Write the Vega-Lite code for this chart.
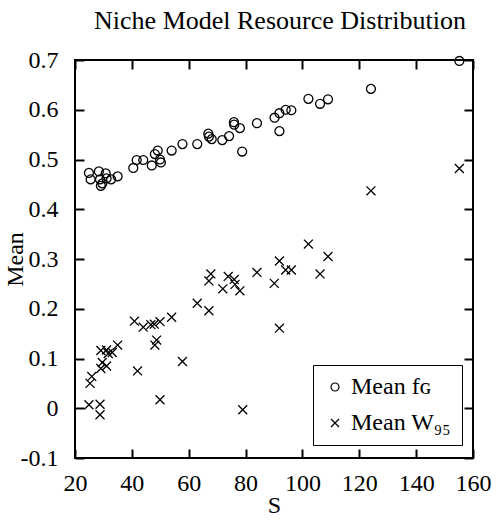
{
 "$schema": "https://vega.github.io/schema/vega-lite/v6.json",
 "width": 398, "height": 398,
 "autosize": "none",
 "padding": {"left": 75, "top": 60, "right": 25, "bottom": 72},
 "background": "white",
 "title": {"text": "Niche Model Resource Distribution", "font": "Liberation Serif", "fontSize": 26, "fontWeight": "normal", "color": "black", "anchor": "middle", "offset": 14, "dx": 6},
 "config": {
  "view": {"stroke": "black", "strokeWidth": 2},
  "axis": {"domain": false, "grid": false, "labelFlush": false, "zindex": 1,
           "labelFont": "Liberation Serif", "labelFontSize": 24, "labelColor": "black",
           "titleFont": "Liberation Serif", "titleFontSize": 24, "titleFontWeight": "normal", "titleColor": "black"}
 },
 "datasets": {"pts": [
  {"S":24.9,"mean":0.473,"series":"Mean fɢ"},
  {"S":25.5,"mean":0.460,"series":"Mean fɢ"},
  {"S":28.4,"mean":0.476,"series":"Mean fɢ"},
  {"S":28.8,"mean":0.460,"series":"Mean fɢ"},
  {"S":29.1,"mean":0.447,"series":"Mean fɢ"},
  {"S":29.6,"mean":0.452,"series":"Mean fɢ"},
  {"S":30.8,"mean":0.472,"series":"Mean fɢ"},
  {"S":31.1,"mean":0.462,"series":"Mean fɢ"},
  {"S":32.7,"mean":0.460,"series":"Mean fɢ"},
  {"S":35.0,"mean":0.466,"series":"Mean fɢ"},
  {"S":40.5,"mean":0.483,"series":"Mean fɢ"},
  {"S":41.7,"mean":0.499,"series":"Mean fɢ"},
  {"S":44.0,"mean":0.499,"series":"Mean fɢ"},
  {"S":47.0,"mean":0.488,"series":"Mean fɢ"},
  {"S":48.1,"mean":0.511,"series":"Mean fɢ"},
  {"S":49.1,"mean":0.518,"series":"Mean fɢ"},
  {"S":49.9,"mean":0.500,"series":"Mean fɢ"},
  {"S":50.2,"mean":0.494,"series":"Mean fɢ"},
  {"S":54.0,"mean":0.518,"series":"Mean fɢ"},
  {"S":57.8,"mean":0.531,"series":"Mean fɢ"},
  {"S":63.0,"mean":0.531,"series":"Mean fɢ"},
  {"S":66.9,"mean":0.552,"series":"Mean fɢ"},
  {"S":67.1,"mean":0.546,"series":"Mean fɢ"},
  {"S":68.1,"mean":0.541,"series":"Mean fɢ"},
  {"S":71.8,"mean":0.539,"series":"Mean fɢ"},
  {"S":74.2,"mean":0.547,"series":"Mean fɢ"},
  {"S":75.9,"mean":0.575,"series":"Mean fɢ"},
  {"S":76.0,"mean":0.570,"series":"Mean fɢ"},
  {"S":78.0,"mean":0.563,"series":"Mean fɢ"},
  {"S":78.8,"mean":0.516,"series":"Mean fɢ"},
  {"S":84.0,"mean":0.573,"series":"Mean fɢ"},
  {"S":90.2,"mean":0.584,"series":"Mean fɢ"},
  {"S":91.9,"mean":0.593,"series":"Mean fɢ"},
  {"S":91.9,"mean":0.557,"series":"Mean fɢ"},
  {"S":94.1,"mean":0.600,"series":"Mean fɢ"},
  {"S":96.1,"mean":0.599,"series":"Mean fɢ"},
  {"S":102.1,"mean":0.622,"series":"Mean fɢ"},
  {"S":106.2,"mean":0.612,"series":"Mean fɢ"},
  {"S":109.0,"mean":0.621,"series":"Mean fɢ"},
  {"S":124.1,"mean":0.642,"series":"Mean fɢ"},
  {"S":155.2,"mean":0.698,"series":"Mean fɢ"},
  {"S":24.9,"mean":0.007,"series":"Mean W₉₅"},
  {"S":28.8,"mean":0.008,"series":"Mean W₉₅"},
  {"S":28.8,"mean":-0.013,"series":"Mean W₉₅"},
  {"S":25.3,"mean":0.050,"series":"Mean W₉₅"},
  {"S":25.9,"mean":0.064,"series":"Mean W₉₅"},
  {"S":29.1,"mean":0.080,"series":"Mean W₉₅"},
  {"S":31.1,"mean":0.085,"series":"Mean W₉₅"},
  {"S":29.6,"mean":0.092,"series":"Mean W₉₅"},
  {"S":29.1,"mean":0.116,"series":"Mean W₉₅"},
  {"S":31.1,"mean":0.117,"series":"Mean W₉₅"},
  {"S":31.7,"mean":0.110,"series":"Mean W₉₅"},
  {"S":33.1,"mean":0.112,"series":"Mean W₉₅"},
  {"S":35.0,"mean":0.127,"series":"Mean W₉₅"},
  {"S":40.9,"mean":0.175,"series":"Mean W₉₅"},
  {"S":44.0,"mean":0.163,"series":"Mean W₉₅"},
  {"S":46.7,"mean":0.168,"series":"Mean W₉₅"},
  {"S":47.9,"mean":0.169,"series":"Mean W₉₅"},
  {"S":49.9,"mean":0.174,"series":"Mean W₉₅"},
  {"S":54.0,"mean":0.183,"series":"Mean W₉₅"},
  {"S":48.1,"mean":0.127,"series":"Mean W₉₅"},
  {"S":48.7,"mean":0.137,"series":"Mean W₉₅"},
  {"S":42.0,"mean":0.075,"series":"Mean W₉₅"},
  {"S":49.9,"mean":0.017,"series":"Mean W₉₅"},
  {"S":57.8,"mean":0.094,"series":"Mean W₉₅"},
  {"S":63.0,"mean":0.211,"series":"Mean W₉₅"},
  {"S":67.1,"mean":0.196,"series":"Mean W₉₅"},
  {"S":67.8,"mean":0.270,"series":"Mean W₉₅"},
  {"S":67.1,"mean":0.256,"series":"Mean W₉₅"},
  {"S":72.0,"mean":0.240,"series":"Mean W₉₅"},
  {"S":73.9,"mean":0.265,"series":"Mean W₉₅"},
  {"S":76.0,"mean":0.259,"series":"Mean W₉₅"},
  {"S":76.3,"mean":0.249,"series":"Mean W₉₅"},
  {"S":78.0,"mean":0.236,"series":"Mean W₉₅"},
  {"S":79.0,"mean":-0.003,"series":"Mean W₉₅"},
  {"S":84.0,"mean":0.273,"series":"Mean W₉₅"},
  {"S":90.1,"mean":0.251,"series":"Mean W₉₅"},
  {"S":91.9,"mean":0.296,"series":"Mean W₉₅"},
  {"S":94.1,"mean":0.278,"series":"Mean W₉₅"},
  {"S":96.1,"mean":0.278,"series":"Mean W₉₅"},
  {"S":91.9,"mean":0.161,"series":"Mean W₉₅"},
  {"S":102.1,"mean":0.330,"series":"Mean W₉₅"},
  {"S":106.2,"mean":0.270,"series":"Mean W₉₅"},
  {"S":109.0,"mean":0.305,"series":"Mean W₉₅"},
  {"S":124.1,"mean":0.437,"series":"Mean W₉₅"},
  {"S":155.2,"mean":0.482,"series":"Mean W₉₅"}
 ]},
 "data": {"name": "pts"},
 "layer": [
  {
   "mark": {"type": "point", "filled": false, "color": "black", "size": 80, "strokeWidth": 1.3, "opacity": 1},
   "encoding": {
    "x": {"field": "S", "type": "quantitative", "scale": {"domain": [20, 160], "nice": false, "zero": false},
          "axis": {"values": [20, 40, 60, 80, 100, 120, 140, 160], "title": "S", "labelPadding": 13, "titlePadding": -2,
                   "ticks": true, "tickSize": 9, "tickWidth": 2, "tickColor": "black", "offset": -9}},
    "y": {"field": "mean", "type": "quantitative", "scale": {"domain": [-0.1, 0.7], "nice": false, "zero": false},
          "axis": {"values": [-0.1, 0, 0.1, 0.2, 0.3, 0.4, 0.5, 0.6, 0.7], "title": "Mean", "labelPadding": 17, "titlePadding": -7,
                   "ticks": true, "tickSize": 9, "tickWidth": 2, "tickColor": "black", "offset": -9,
                   "labelExpr": "abs(datum.value) < 1e-9 ? '0' : (datum.value < 0 ? '-' + format(-datum.value, '.1f') : format(datum.value, '.1f'))"}},
    "shape": {"field": "series", "type": "nominal",
              "scale": {"domain": ["Mean fɢ", "Mean W₉₅"], "range": ["circle", "M-1,-1L1,1M1,-1L-1,1"]},
              "legend": {"title": null, "orient": "none", "legendX": 238, "legendY": 305,
                         "strokeColor": "black", "fillColor": "white", "padding": 10,
                         "labelFont": "Liberation Serif", "labelFontSize": 24, "labelColor": "black",
                         "labelOffset": 4, "rowPadding": 12, "symbolSize": 64, "symbolStrokeWidth": 1.2,
                         "symbolStrokeColor": "black", "symbolFillColor": "transparent"}}
   }
  },
  {
   "mark": {"type": "point", "opacity": 0},
   "encoding": {
    "x": {"field": "S", "type": "quantitative", "scale": {"domain": [20, 160], "nice": false, "zero": false},
          "axis": {"orient": "top", "values": [20, 40, 60, 80, 100, 120, 140, 160], "labels": false, "title": null,
                   "ticks": true, "tickSize": 9, "tickWidth": 2, "tickColor": "black", "offset": -9}},
    "y": {"field": "mean", "type": "quantitative", "scale": {"domain": [-0.1, 0.7], "nice": false, "zero": false},
          "axis": {"orient": "right", "values": [-0.1, 0, 0.1, 0.2, 0.3, 0.4, 0.5, 0.6, 0.7], "labels": false, "title": null,
                   "ticks": true, "tickSize": 9, "tickWidth": 2, "tickColor": "black", "offset": -9}}
   }
  }
 ],
 "resolve": {"axis": {"x": "independent", "y": "independent"}}
}
